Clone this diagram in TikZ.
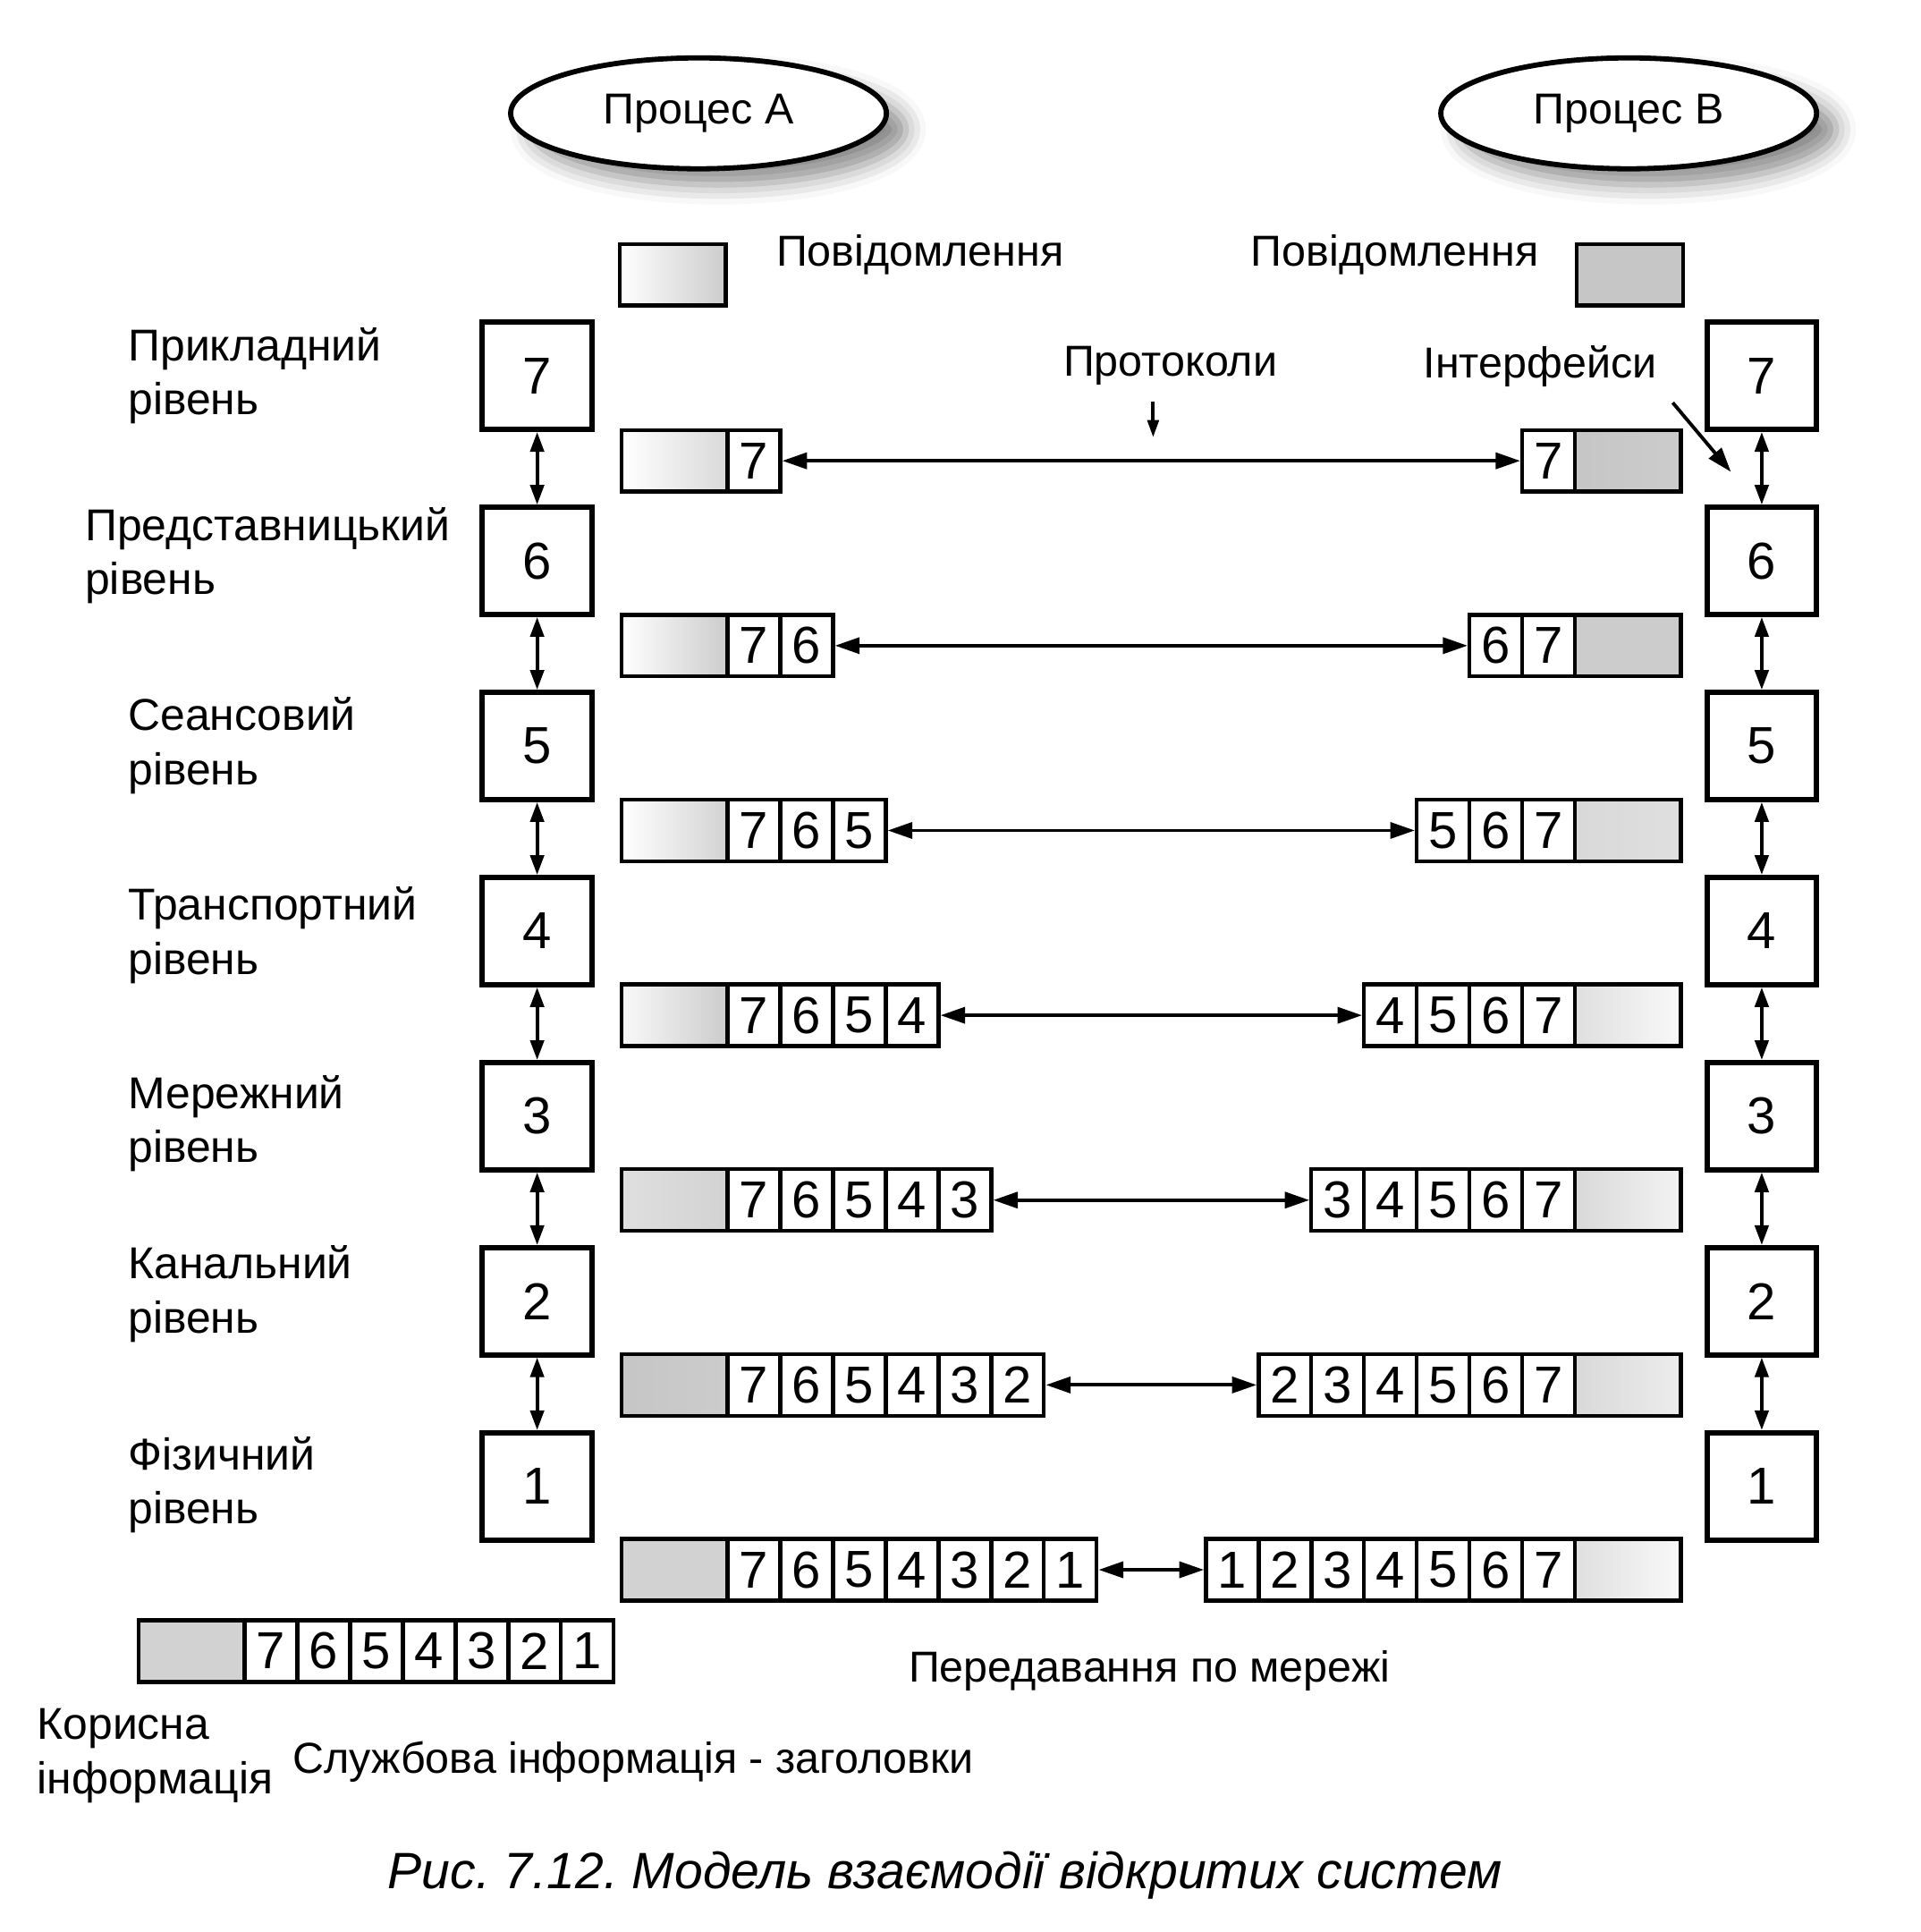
\documentclass[tikz,border=0pt]{standalone}
\usepackage{fontspec}
\setmainfont{Liberation Sans}
\usepackage{tikz}
\usetikzlibrary{arrows.meta}
\usetikzlibrary{calc, matrix, positioning, shapes.geometric, shadows.blur}
\frenchspacing
\tikzstyle{proc}=[ellipse, draw, minimum width=3.05cm, minimum height=0.9cm, line width=1.2pt, fill=white, blur shadow={shadow xshift=1.6mm, shadow yshift=-1.3mm, shadow blur radius=1.6mm, shadow opacity=45}]
\tikzstyle{lvl}=[rectangle, draw, minimum width=0.89cm, minimum height=0.87cm, line width=1.2pt, font=\fontsize{12pt}{14pt}\selectfont]
\tikzstyle{hdr}=[rectangle, draw, minimum width=0.428cm, minimum height=0.5cm, inner sep=0pt, outer sep=0pt, anchor=center, line width=0.9pt, font=\fontsize{12pt}{14pt}\selectfont]
\tikzstyle{pkt}=[ampersand replacement=\&, matrix of nodes, nodes in empty cells, nodes={hdr}, column sep=-0.9pt, inner sep=0pt, outer sep=0pt]
\tikzstyle{lbl}=[align=left, anchor=west, font=\fontsize{10.3pt}{12.5pt}\selectfont]
\tikzset{dataL/.style 2 args={hdr, minimum width=0.86cm, left color=gray!#1, right color=gray!#2}}
\tikzset{vv/.style={<->, >={Triangle[length=1.6mm, width=1.1mm]}}}

\begin{document}
\begin{tikzpicture}

\tikzset{>={Triangle[length=2mm, width=1.3mm]}}
\tikzset{every node/.style={font=\fontsize{10pt}{12.5pt}\selectfont}}
\tikzset{every path/.style={line width=0.8pt}}

\useasboundingbox (0,0) rectangle (15.59,-15.68);

% Processes
\node[proc] (procA) at (5.67,-0.92) {Процес А};
\node[proc] (procB) at (13.22,-0.92) {Процес В};

% Legend
\node[draw, line width=0.9pt, minimum width=0.86cm, minimum height=0.5cm, left color=white, right color=gray!40] (msgA) at (5.46,-2.23) {};
\node[anchor=west] (msgAt) at (6.17,-2.07) {Повідомлення};
\node[anchor=east] (msgBt) at (12.62,-2.07) {Повідомлення};
\node[draw, line width=0.9pt, minimum width=0.86cm, minimum height=0.5cm, fill=gray!45] (msgB) at (13.23,-2.23) {};

% Layer stacks
\node[lvl] (L7) at (4.36,-3.05) {7};
\node[lvl, below=0.59cm of L7] (L6) {6};
\node[lvl, below=0.59cm of L6] (L5) {5};
\node[lvl, below=0.59cm of L5] (L4) {4};
\node[lvl, below=0.59cm of L4] (L3) {3};
\node[lvl, below=0.59cm of L3] (L2) {2};
\node[lvl, below=0.59cm of L2] (L1) {1};

\node[lvl] (R7) at (14.30,-3.05) {7};
\node[lvl, below=0.59cm of R7] (R6) {6};
\node[lvl, below=0.59cm of R6] (R5) {5};
\node[lvl, below=0.59cm of R5] (R4) {4};
\node[lvl, below=0.59cm of R4] (R3) {3};
\node[lvl, below=0.59cm of R3] (R2) {2};
\node[lvl, below=0.59cm of R2] (R1) {1};

\draw[vv] (L7) -- (L6); \draw[vv] (L6) -- (L5); \draw[vv] (L5) -- (L4);
\draw[vv] (L4) -- (L3); \draw[vv] (L3) -- (L2); \draw[vv] (L2) -- (L1);
\draw[vv] (R7) -- (R6); \draw[vv] (R6) -- (R5); \draw[vv] (R5) -- (R4);
\draw[vv] (R4) -- (R3); \draw[vv] (R3) -- (R2); \draw[vv] (R2) -- (R1);

% Layer names
\node[lbl] (n7) at (0.91,-3.05) {Прикладний\\рівень};
\node[lbl] (n6) at (0.56,-4.51) {Представницький\\рівень};
\node[lbl] (n5) at (0.91,-6.05) {Сеансовий\\рівень};
\node[lbl] (n4) at (0.91,-7.59) {Транспортний\\рівень};
\node[lbl] (n3) at (0.91,-9.12) {Мережний\\рівень};
\node[lbl] (n2) at (0.91,-10.50) {Канальний\\рівень};
\node[lbl] (n1) at (0.91,-12.05) {Фізичний\\рівень};

% Packets, sender side
\matrix (pl7) [pkt, anchor=west] at (5.03,-3.74) {|[dataL={0}{30}]| \& 7 \\};
\matrix (pl6) [pkt, anchor=west] at (5.03,-5.24) {|[dataL={0}{40}]| \& 7 \& 6 \\};
\matrix (pl5) [pkt, anchor=west] at (5.03,-6.74) {|[dataL={0}{35}]| \& 7 \& 6 \& 5 \\};
\matrix (pl4) [pkt, anchor=west] at (5.03,-8.24) {|[dataL={5}{40}]| \& 7 \& 6 \& 5 \& 4 \\};
\matrix (pl3) [pkt, anchor=west] at (5.03,-9.74) {|[dataL={25}{35}]| \& 7 \& 6 \& 5 \& 4 \& 3 \\};
\matrix (pl2) [pkt, anchor=west] at (5.03,-11.24) {|[dataL={45}{40}]| \& 7 \& 6 \& 5 \& 4 \& 3 \& 2 \\};
\matrix (pl1) [pkt, anchor=west] at (5.03,-12.74) {|[dataL={35}{35}]| \& 7 \& 6 \& 5 \& 4 \& 3 \& 2 \& 1 \\};

% Packets, receiver side
\matrix (pr7) [pkt, anchor=east] at (13.66,-3.74) {7 \& |[dataL={45}{40}]| \\};
\matrix (pr6) [pkt, anchor=east] at (13.66,-5.24) {6 \& 7 \& |[dataL={40}{40}]| \\};
\matrix (pr5) [pkt, anchor=east] at (13.66,-6.74) {5 \& 6 \& 7 \& |[dataL={30}{25}]| \\};
\matrix (pr4) [pkt, anchor=east] at (13.66,-8.24) {4 \& 5 \& 6 \& 7 \& |[dataL={25}{5}]| \\};
\matrix (pr3) [pkt, anchor=east] at (13.66,-9.74) {3 \& 4 \& 5 \& 6 \& 7 \& |[dataL={30}{10}]| \\};
\matrix (pr2) [pkt, anchor=east] at (13.66,-11.24) {2 \& 3 \& 4 \& 5 \& 6 \& 7 \& |[dataL={30}{15}]| \\};
\matrix (pr1) [pkt, anchor=east] at (13.66,-12.74) {1 \& 2 \& 3 \& 4 \& 5 \& 6 \& 7 \& |[dataL={25}{5}]| \\};

% Peer protocols
\draw[<->] (pl7.east) -- (pr7.west);
\draw[<->] (pl6.east) -- (pr6.west);
\draw[<->] (pl5.east) -- (pr5.west);
\draw[<->] (pl4.east) -- (pr4.west);
\draw[<->] (pl3.east) -- (pr3.west);
\draw[<->] (pl2.east) -- (pr2.west);
\draw[<->] (pl1.east) -- (pr1.west);

% Pointers
\node (prot) at (9.50,-2.97) {Протоколи};
\coordinate (protend) at (9.36,-3.55);
\draw[->, >={Triangle[length=1.4mm, width=0.9mm]}] (prot.south -| protend) -- (protend);
\node (intf) at (12.50,-2.97) {Інтерфейси};
\coordinate (intfend) at (14.05,-3.83);
\draw[->] (intf.south east) -- (intfend);

% Frame on the wire
\matrix (pall) [pkt, anchor=west] at (1.11,-13.40) {|[dataL={35}{35}]| \& 7 \& 6 \& 5 \& 4 \& 3 \& 2 \& 1 \\};
\node (net) at (9.33,-13.56) {Передавання по мережі};
\node[lbl] (useful) at (0.17,-14.25) {Корисна\\інформація};
\node (serv) at (5.14,-14.30) {Службова інформація - заголовки};

\node[font=\itshape\fontsize{11.8pt}{14pt}\selectfont] (cap) at (7.67,-15.22) {Рис. 7.12. Модель взаємодії відкритих систем};

\end{tikzpicture}
\end{document}
